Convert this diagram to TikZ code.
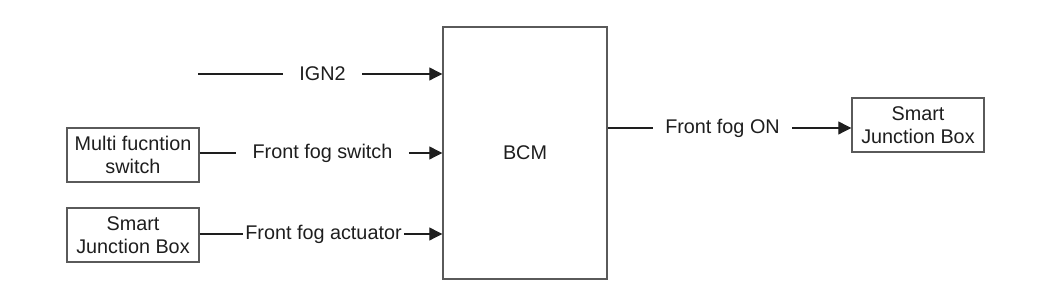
\documentclass[tikz,border=0pt]{standalone}
\usepackage{fontspec}
\setmainfont{Liberation Sans}
\usetikzlibrary{arrows.meta,positioning}
\definecolor{inkK}{HTML}{1E1E1E}
\definecolor{edgeG}{HTML}{5A5A5A}

\begin{document}
\begin{tikzpicture}[x=0.5pt,y=-0.5pt,
    font=\fontsize{9.9}{11.5}\selectfont, text=inkK,
    unitbox/.style={draw=edgeG, line width=0.7pt, fill=white, align=center,
                    minimum width=66pt, minimum height=27pt, inner sep=1pt},
    sigline/.style={draw=inkK, line width=0.55pt},
    sigarrow/.style={sigline, -{Triangle[length=6.5pt,width=6.5pt]}},
    siglabel/.style={inner ysep=1pt, inner xsep=8pt}]
  \useasboundingbox (0,0) rectangle (1051,308);

  % units
  \node[unitbox, minimum width=82pt, minimum height=126pt] (bcm) at (525,153) {BCM};
  \node[unitbox] (mfswitch) at (133,155) {Multi fucntion\\switch};
  \node[unitbox] (sjbin) at (133,235) {Smart\\Junction Box};
  \node[unitbox] (sjbout) at (918,125) {Smart\\Junction Box};

  % signal names
  \node[siglabel] (ign) at (322.5,74) {IGN2};
  \node[siglabel] (ffswitch) at (322.5,153) {Front fog switch};
  \node[siglabel, inner xsep=1pt] (ffact) at (323.5,234) {Front fog actuator};
  \node[siglabel, inner xsep=6pt] (ffon) at (722.5,128) {Front fog ON};
  \coordinate (ignsrc) at (198,74);

  % inputs
  \draw[sigline] (ignsrc) -- (ign.west);
  \draw[sigarrow] (ign.east) -- (ign.east -| bcm.west);
  \draw[sigline] (mfswitch.east |- ffswitch) -- (ffswitch.west);
  \draw[sigarrow] (ffswitch.east) -- (ffswitch.east -| bcm.west);
  \draw[sigline] (sjbin.east |- ffact) -- (ffact.west);
  \draw[sigarrow] (ffact.east) -- (ffact.east -| bcm.west);

  % output
  \draw[sigline] (bcm.east |- ffon) -- (ffon.west);
  \draw[sigarrow] (ffon.east) -- (ffon.east -| sjbout.west);
\end{tikzpicture}
\end{document}
